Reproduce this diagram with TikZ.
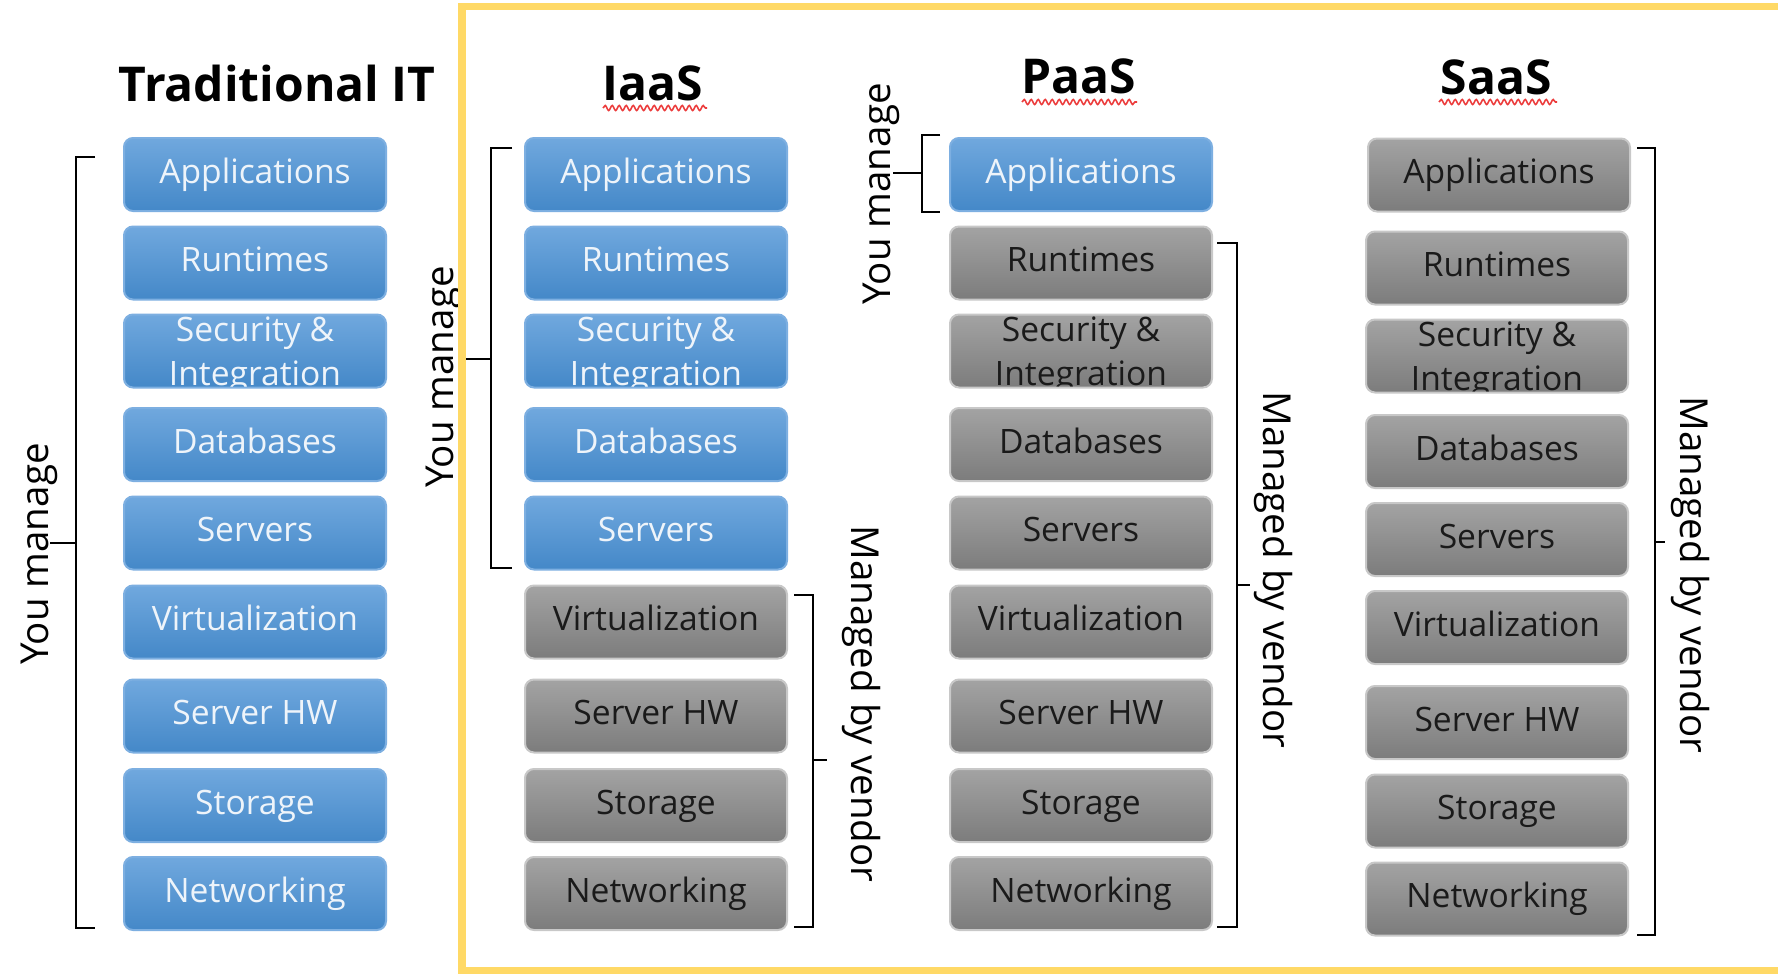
\documentclass[tikz,border=0pt]{standalone}
\usepackage{fontspec}
\setmainfont{Open Sans}
\usetikzlibrary{decorations.pathmorphing}
\definecolor{bluetop}{RGB}{112,168,222}
\definecolor{bluebot}{RGB}{68,136,200}
\definecolor{blueline}{RGB}{125,175,225}
\definecolor{bluetext}{RGB}{238,244,250}
\definecolor{greytop}{RGB}{163,163,163}
\definecolor{greybot}{RGB}{124,124,124}
\definecolor{greyline}{RGB}{200,200,200}
\definecolor{greytext}{RGB}{26,26,26}
\definecolor{framegold}{RGB}{255,217,102}
\definecolor{spellred}{RGB}{236,60,60}
\begin{document}
\begin{tikzpicture}[x=1pt, y=-1pt,
  layer/.style={rounded corners=9pt, minimum width=262pt, minimum height=73pt, inner sep=0pt,
    line width=2pt, font=\fontsize{33.6}{41}\selectfont, text height=25pt, text depth=8pt},
  ownbox/.style={layer, draw=blueline, top color=bluetop, bottom color=bluebot, text=bluetext},
  vendorbox/.style={layer, draw=greyline, top color=greytop, bottom color=greybot, text=greytext},
  twoline/.style={path picture={\node[align=center, text height={}, text depth={}, text=#1, yshift=-4.5pt,
    font=\fontsize{33.6}{44}\selectfont] at (path picture bounding box.center) {Security \&\\Integration};}},
  heading/.style={anchor=base, font=\fontsize{48}{56}\selectfont\bfseries},
  side/.style={font=\fontsize{38.5}{46}\selectfont},
  brk/.style={line width=2.5pt},
  spell/.style={spellred, line width=1.6pt, decorate, decoration={snake, amplitude=2.5pt, segment length=7pt}}]
\useasboundingbox (0,0) rectangle (1778,974);
\fill[white] (0,0) rectangle (1778,974);

\node[heading] (tTitle) at (277,102) {Traditional IT};
\node[heading] (iTitle) at (653,100) {IaaS};
\node[heading] (pTitle) at (1079,93) {PaaS};
\node[heading] (sTitle) at (1496,95) {SaaS};
\draw[spell] (603,108) -- (707,108);
\draw[spell] (1022,102) -- (1137,102);
\draw[spell] (1439,102) -- (1557,102);

\node[ownbox] (tApp) at (255,174.5) {Applications};
\node[ownbox] (tRun) at (255,263) {Runtimes};
\node[ownbox, twoline=bluetext] (tSec) at (255,351) {};
\node[ownbox] (tDb) at (255,444.5) {Databases};
\node[ownbox] (tSrv) at (255,533) {Servers};
\node[ownbox] (tVirt) at (255,622) {Virtualization};
\node[ownbox] (tHw) at (255,716) {Server HW};
\node[ownbox] (tSto) at (255,805.5) {Storage};
\node[ownbox] (tNet) at (255,893.5) {Networking};

\node[ownbox] (iApp) at (656,174.5) {Applications};
\node[ownbox] (iRun) at (656,263) {Runtimes};
\node[ownbox, twoline=bluetext] (iSec) at (656,351) {};
\node[ownbox] (iDb) at (656,444.5) {Databases};
\node[ownbox] (iSrv) at (656,533) {Servers};
\node[vendorbox] (iVirt) at (656,622) {Virtualization};
\node[vendorbox] (iHw) at (656,716) {Server HW};
\node[vendorbox] (iSto) at (656,805.5) {Storage};
\node[vendorbox] (iNet) at (656,893.5) {Networking};

\node[ownbox] (pApp) at (1081,174.5) {Applications};
\node[vendorbox] (pRun) at (1081,263) {Runtimes};
\node[vendorbox, twoline=greytext] (pSec) at (1081,351) {};
\node[vendorbox] (pDb) at (1081,444.5) {Databases};
\node[vendorbox] (pSrv) at (1081,533) {Servers};
\node[vendorbox] (pVirt) at (1081,622) {Virtualization};
\node[vendorbox] (pHw) at (1081,716) {Server HW};
\node[vendorbox] (pSto) at (1081,805.5) {Storage};
\node[vendorbox] (pNet) at (1081,893.5) {Networking};

\node[vendorbox] (sApp) at (1499,175) {Applications};
\node[vendorbox] (sRun) at (1497,268) {Runtimes};
\node[vendorbox, twoline=greytext] (sSec) at (1497,356) {};
\node[vendorbox] (sDb) at (1497,451.5) {Databases};
\node[vendorbox] (sSrv) at (1497,539.5) {Servers};
\node[vendorbox] (sVirt) at (1497,627.5) {Virtualization};
\node[vendorbox] (sHw) at (1497,722.5) {Server HW};
\node[vendorbox] (sSto) at (1497,811) {Storage};
\node[vendorbox] (sNet) at (1497,899) {Networking};

\draw[brk] (95,157) -- (76,157) -- (76,928) -- (95,928);
\draw[brk] (76,543) -- (50,543);
\node[side, rotate=90] (tOwn) at (39,554) {You manage};

\draw[brk] (512,148) -- (491,148) -- (491,568) -- (512,568);
\draw[brk] (491,359) -- (466,359);
\node[side, rotate=90] (iOwn) at (444,377) {You manage};
\draw[brk] (794,595) -- (813,595) -- (813,927) -- (794,927);
\draw[brk] (813,760) -- (827,760);
\node[side, rotate=-90] (iVendor) at (861,704) {Managed by vendor};

\draw[brk] (940,135) -- (922,135) -- (922,212) -- (940,212);
\draw[brk] (922,173) -- (893,173);
\node[side, rotate=90] (pOwn) at (881,194) {You manage};
\draw[brk] (1217,243) -- (1237,243) -- (1237,927) -- (1217,927);
\draw[brk] (1237,585) -- (1250,585);
\node[side, rotate=-90] (pVendor) at (1273,570) {Managed by vendor};

\draw[brk] (1637,148) -- (1655,148) -- (1655,935) -- (1637,935);
\draw[brk] (1655,542) -- (1665,542);
\node[side, rotate=-90] (sVendor) at (1690,575) {Managed by vendor};

\draw[framegold, line width=7.5pt] (1790,6.5) -- (462,6.5) -- (462,970.5) -- (1790,970.5);
\end{tikzpicture}
\end{document}
